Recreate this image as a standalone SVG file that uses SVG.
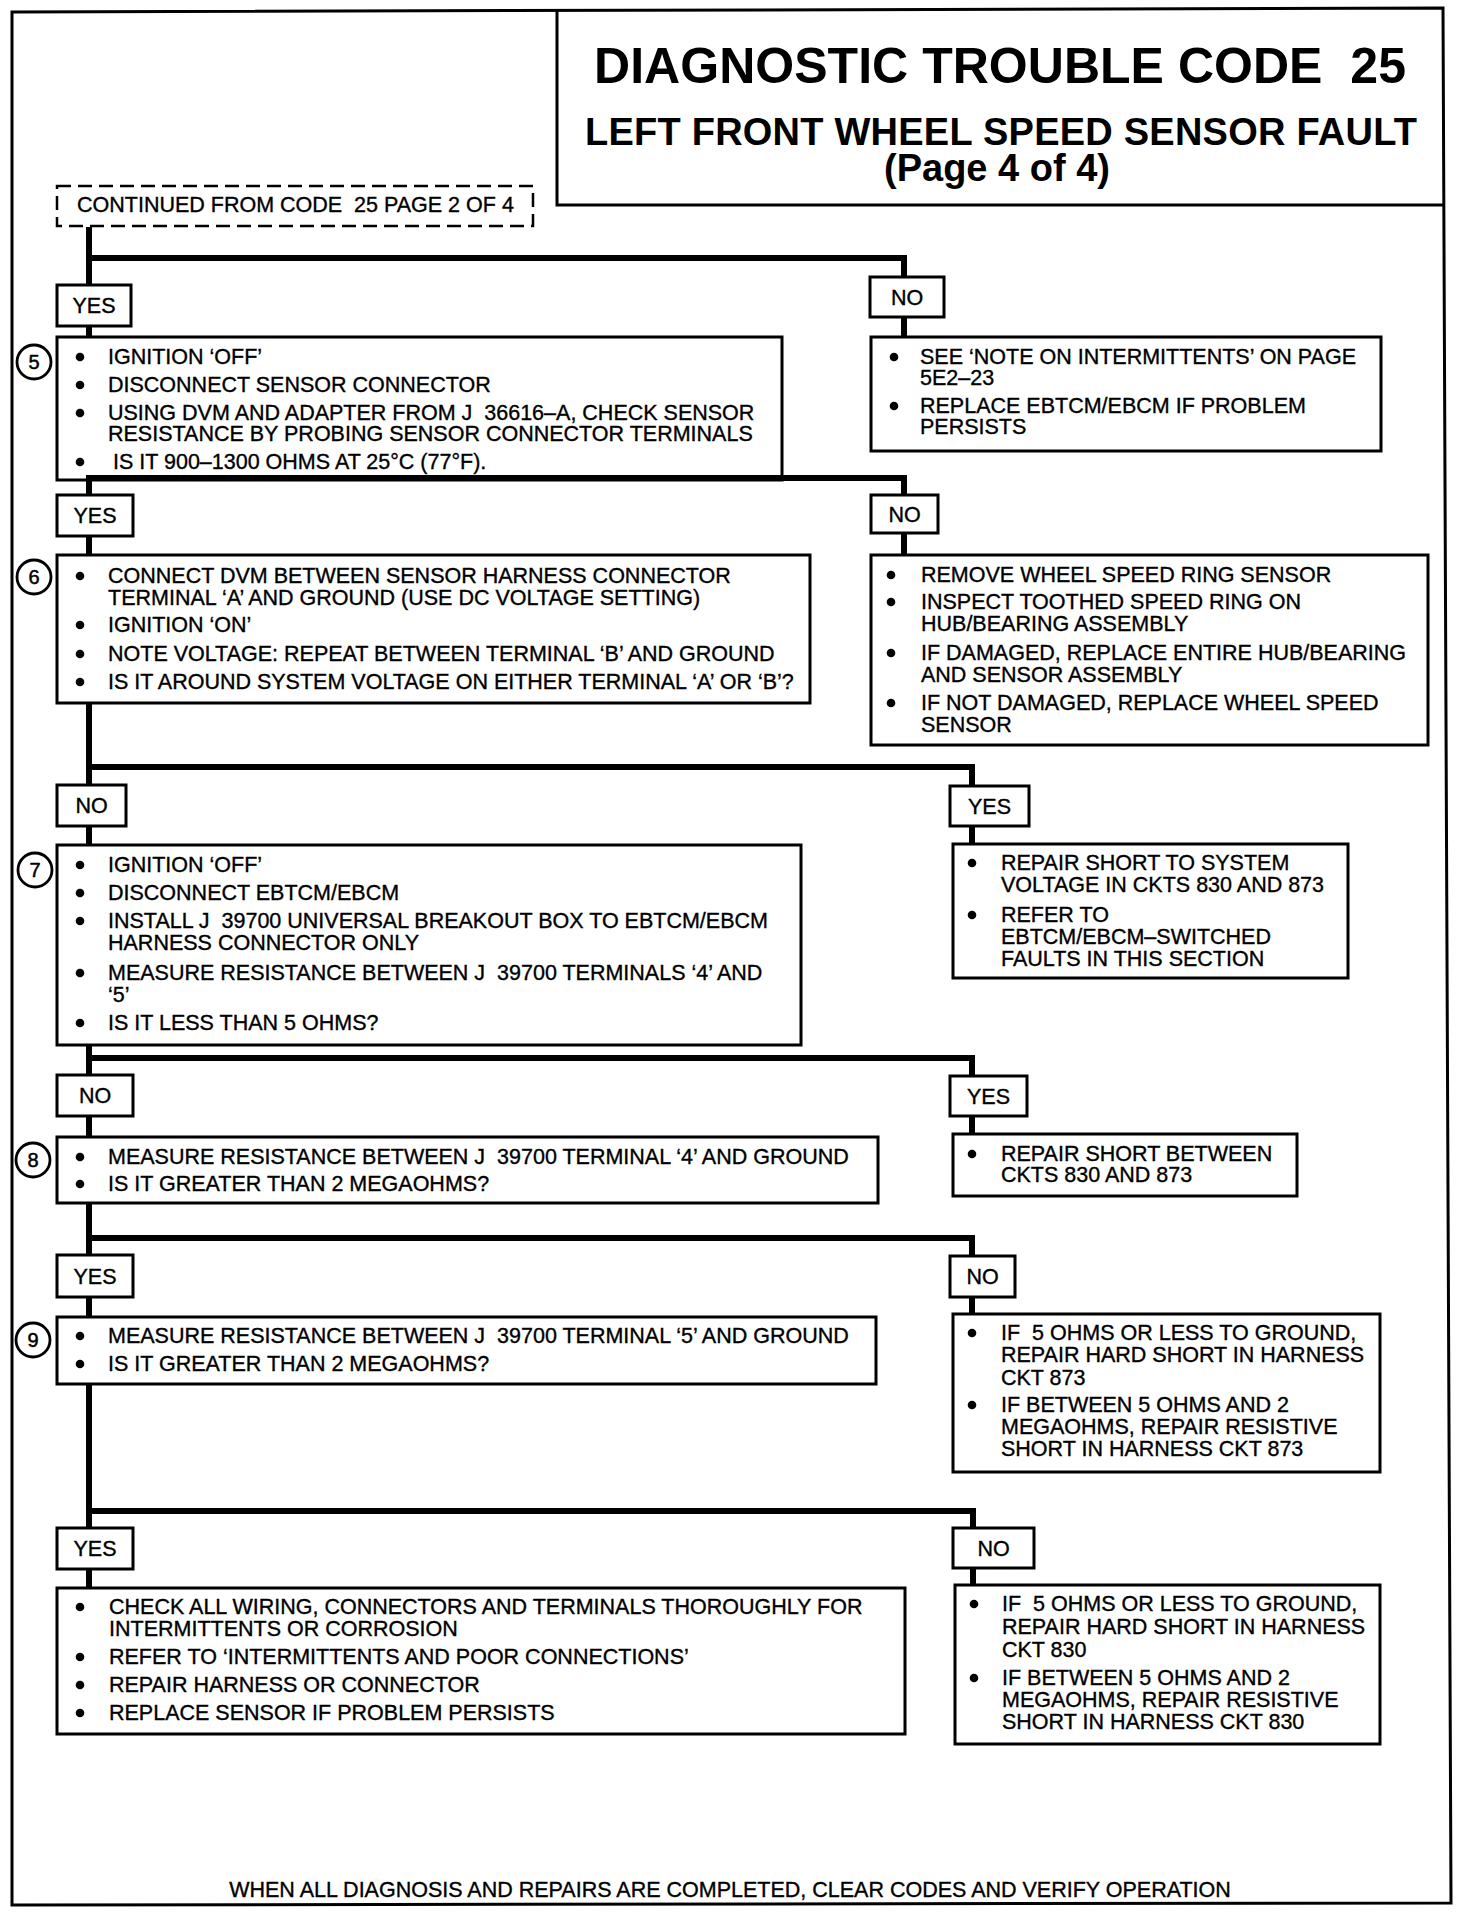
<svg xmlns="http://www.w3.org/2000/svg" width="1472" height="1914" viewBox="0 0 1472 1914">
<style>
  text { font-family: "Liberation Sans", Arial, Helvetica, sans-serif; fill: #000; white-space: pre; }
  .t { font-size: 21.5px; stroke: #000; stroke-width: 0.35; }
  .lbl { font-size: 21.5px; text-anchor: middle; stroke: #000; stroke-width: 0.35; }
  .num { font-size: 20px; text-anchor: middle; stroke: #000; stroke-width: 0.5; }
  .title { font-weight: bold; }
  .box { fill: #fff; stroke: #000; stroke-width: 3; }
  .dash { fill: #fff; stroke: #000; stroke-width: 2.5; stroke-dasharray: 14 7; }
  .circ { fill: #fff; stroke: #000; stroke-width: 2.8; }
  .conn { fill: none; stroke: #000; stroke-width: 6; stroke-linejoin: miter; }
  .frame { fill: none; stroke: #000; stroke-width: 3; }
  .b { fill: #000; }
</style>
<rect width="1472" height="1914" fill="#fff"/>

<g id="frame">
  <path class="frame" d="M12,12 L1443,8 L1451,1903 L12,1905 Z"/>
</g>

<g id="title">
  <path class="frame" d="M557,10 V205 H1444"/>
  <text class="title" x="594" y="83" font-size="50" textLength="812">DIAGNOSTIC TROUBLE CODE  25</text>
  <text class="title" x="585" y="145" font-size="38" textLength="832">LEFT FRONT WHEEL SPEED SENSOR FAULT</text>
  <text class="title" x="884" y="181" font-size="38">(Page 4 of 4)</text>
</g>

<g id="start">
  <rect class="dash" x="57" y="186" width="476" height="40"/>
  <text class="t" x="77" y="212">CONTINUED FROM CODE  25 PAGE 2 OF 4</text>
</g>

<g id="yes1"><rect class="box" x="57" y="285" width="74" height="41"/><text class="lbl" x="94" y="313">YES</text></g>
<g id="no1"><rect class="box" x="870" y="277" width="74" height="40"/><text class="lbl" x="907" y="305">NO</text></g>

<g id="step5">
  <rect class="box" x="57" y="337" width="725" height="143"/>
  <circle class="circ" cx="34" cy="362" r="17"/><text class="num" x="34" y="369">5</text>
  <circle class="b" cx="80" cy="357" r="4.3"/><text class="t" x="108" y="364">IGNITION ‘OFF’</text>
  <circle class="b" cx="80" cy="385" r="4.3"/><text class="t" x="108" y="392">DISCONNECT SENSOR CONNECTOR</text>
  <circle class="b" cx="80" cy="413" r="4.3"/><text class="t" x="108" y="420">USING DVM AND ADAPTER FROM J  36616–A, CHECK SENSOR</text>
  <text class="t" x="108" y="441">RESISTANCE BY PROBING SENSOR CONNECTOR TERMINALS</text>
  <circle class="b" cx="80" cy="462" r="4.3"/><text class="t" x="113" y="469">IS IT 900–1300 OHMS AT 25°C (77°F).</text>
</g>

<g id="no1-action">
  <rect class="box" x="871" y="337" width="510" height="114"/>
  <circle class="b" cx="894" cy="357" r="4.3"/><text class="t" x="920" y="364">SEE ‘NOTE ON INTERMITTENTS’ ON PAGE</text>
  <text class="t" x="920" y="385">5E2–23</text>
  <circle class="b" cx="894" cy="406" r="4.3"/><text class="t" x="920" y="413">REPLACE EBTCM/EBCM IF PROBLEM</text>
  <text class="t" x="920" y="434">PERSISTS</text>
</g>

<g id="yes2"><rect class="box" x="57" y="495" width="76" height="41"/><text class="lbl" x="95" y="523">YES</text></g>
<g id="no2"><rect class="box" x="871" y="495" width="67" height="38"/><text class="lbl" x="904.5" y="522">NO</text></g>

<g id="step6">
  <rect class="box" x="57" y="555" width="753" height="148"/>
  <circle class="circ" cx="34" cy="577" r="17"/><text class="num" x="34" y="584">6</text>
  <circle class="b" cx="80" cy="576" r="4.3"/><text class="t" x="108" y="583">CONNECT DVM BETWEEN SENSOR HARNESS CONNECTOR</text>
  <text class="t" x="108" y="605">TERMINAL ‘A’ AND GROUND (USE DC VOLTAGE SETTING)</text>
  <circle class="b" cx="80" cy="625" r="4.3"/><text class="t" x="108" y="632">IGNITION ‘ON’</text>
  <circle class="b" cx="80" cy="654" r="4.3"/><text class="t" x="108" y="661">NOTE VOLTAGE: REPEAT BETWEEN TERMINAL ‘B’ AND GROUND</text>
  <circle class="b" cx="80" cy="682" r="4.3"/><text class="t" x="108" y="689">IS IT AROUND SYSTEM VOLTAGE ON EITHER TERMINAL ‘A’ OR ‘B’?</text>
</g>

<g id="no2-action">
  <rect class="box" x="871" y="555" width="557" height="190"/>
  <circle class="b" cx="891" cy="575" r="4.3"/><text class="t" x="921" y="582">REMOVE WHEEL SPEED RING SENSOR</text>
  <circle class="b" cx="891" cy="602" r="4.3"/><text class="t" x="921" y="609">INSPECT TOOTHED SPEED RING ON</text>
  <text class="t" x="921" y="631">HUB/BEARING ASSEMBLY</text>
  <circle class="b" cx="891" cy="653" r="4.3"/><text class="t" x="921" y="660">IF DAMAGED, REPLACE ENTIRE HUB/BEARING</text>
  <text class="t" x="921" y="682">AND SENSOR ASSEMBLY</text>
  <circle class="b" cx="891" cy="703" r="4.3"/><text class="t" x="921" y="710">IF NOT DAMAGED, REPLACE WHEEL SPEED</text>
  <text class="t" x="921" y="732">SENSOR</text>
</g>

<g id="no3"><rect class="box" x="57" y="785" width="69" height="41"/><text class="lbl" x="91.5" y="813">NO</text></g>
<g id="yes3"><rect class="box" x="950" y="786" width="79" height="40"/><text class="lbl" x="989.5" y="814">YES</text></g>

<g id="step7">
  <rect class="box" x="57" y="845" width="744" height="200"/>
  <circle class="circ" cx="35" cy="870" r="17"/><text class="num" x="35" y="877">7</text>
  <circle class="b" cx="80" cy="865" r="4.3"/><text class="t" x="108" y="872">IGNITION ‘OFF’</text>
  <circle class="b" cx="80" cy="893" r="4.3"/><text class="t" x="108" y="900">DISCONNECT EBTCM/EBCM</text>
  <circle class="b" cx="80" cy="921" r="4.3"/><text class="t" x="108" y="928">INSTALL J  39700 UNIVERSAL BREAKOUT BOX TO EBTCM/EBCM</text>
  <text class="t" x="108" y="950">HARNESS CONNECTOR ONLY</text>
  <circle class="b" cx="80" cy="973" r="4.3"/><text class="t" x="108" y="980">MEASURE RESISTANCE BETWEEN J  39700 TERMINALS ‘4’ AND</text>
  <text class="t" x="108" y="1002">‘5’</text>
  <circle class="b" cx="80" cy="1023" r="4.3"/><text class="t" x="108" y="1030">IS IT LESS THAN 5 OHMS?</text>
</g>

<g id="yes3-action">
  <rect class="box" x="953" y="844" width="395" height="134"/>
  <circle class="b" cx="972" cy="863" r="4.3"/><text class="t" x="1001" y="870">REPAIR SHORT TO SYSTEM</text>
  <text class="t" x="1001" y="892">VOLTAGE IN CKTS 830 AND 873</text>
  <circle class="b" cx="972" cy="915" r="4.3"/><text class="t" x="1001" y="922">REFER TO</text>
  <text class="t" x="1001" y="944">EBTCM/EBCM–SWITCHED</text>
  <text class="t" x="1001" y="966">FAULTS IN THIS SECTION</text>
</g>

<g id="no4"><rect class="box" x="57" y="1075" width="76" height="41"/><text class="lbl" x="95" y="1103">NO</text></g>
<g id="yes4"><rect class="box" x="950" y="1076" width="77" height="40"/><text class="lbl" x="988.5" y="1104">YES</text></g>

<g id="step8">
  <rect class="box" x="57" y="1137" width="821" height="66"/>
  <circle class="circ" cx="33" cy="1160" r="17"/><text class="num" x="33" y="1167">8</text>
  <circle class="b" cx="80" cy="1157" r="4.3"/><text class="t" x="108" y="1164">MEASURE RESISTANCE BETWEEN J  39700 TERMINAL ‘4’ AND GROUND</text>
  <circle class="b" cx="80" cy="1184" r="4.3"/><text class="t" x="108" y="1191">IS IT GREATER THAN 2 MEGAOHMS?</text>
</g>

<g id="yes4-action">
  <rect class="box" x="953" y="1134" width="344" height="62"/>
  <circle class="b" cx="972" cy="1154" r="4.3"/><text class="t" x="1001" y="1161">REPAIR SHORT BETWEEN</text>
  <text class="t" x="1001" y="1182">CKTS 830 AND 873</text>
</g>

<g id="yes5"><rect class="box" x="57" y="1255" width="76" height="42"/><text class="lbl" x="95" y="1284">YES</text></g>
<g id="no5"><rect class="box" x="950" y="1256" width="65" height="41"/><text class="lbl" x="982.5" y="1284">NO</text></g>

<g id="step9">
  <rect class="box" x="57" y="1317" width="819" height="67"/>
  <circle class="circ" cx="33" cy="1340" r="17"/><text class="num" x="33" y="1347">9</text>
  <circle class="b" cx="80" cy="1336" r="4.3"/><text class="t" x="108" y="1343">MEASURE RESISTANCE BETWEEN J  39700 TERMINAL ‘5’ AND GROUND</text>
  <circle class="b" cx="80" cy="1364" r="4.3"/><text class="t" x="108" y="1371">IS IT GREATER THAN 2 MEGAOHMS?</text>
</g>

<g id="no5-action">
  <rect class="box" x="953" y="1314" width="427" height="158"/>
  <circle class="b" cx="972" cy="1333" r="4.3"/><text class="t" x="1001" y="1340">IF  5 OHMS OR LESS TO GROUND,</text>
  <text class="t" x="1001" y="1362">REPAIR HARD SHORT IN HARNESS</text>
  <text class="t" x="1001" y="1385">CKT 873</text>
  <circle class="b" cx="972" cy="1405" r="4.3"/><text class="t" x="1001" y="1412">IF BETWEEN 5 OHMS AND 2</text>
  <text class="t" x="1001" y="1434">MEGAOHMS, REPAIR RESISTIVE</text>
  <text class="t" x="1001" y="1456">SHORT IN HARNESS CKT 873</text>
</g>

<g id="yes6"><rect class="box" x="57" y="1528" width="76" height="41"/><text class="lbl" x="95" y="1556">YES</text></g>
<g id="no6"><rect class="box" x="953" y="1528" width="81" height="40"/><text class="lbl" x="993.5" y="1556">NO</text></g>

<g id="yes6-action">
  <rect class="box" x="57" y="1588" width="848" height="146"/>
  <circle class="b" cx="80" cy="1607" r="4.3"/><text class="t" x="109" y="1614">CHECK ALL WIRING, CONNECTORS AND TERMINALS THOROUGHLY FOR</text>
  <text class="t" x="109" y="1636">INTERMITTENTS OR CORROSION</text>
  <circle class="b" cx="80" cy="1657" r="4.3"/><text class="t" x="109" y="1664">REFER TO ‘INTERMITTENTS AND POOR CONNECTIONS’</text>
  <circle class="b" cx="80" cy="1685" r="4.3"/><text class="t" x="109" y="1692">REPAIR HARNESS OR CONNECTOR</text>
  <circle class="b" cx="80" cy="1713" r="4.3"/><text class="t" x="109" y="1720">REPLACE SENSOR IF PROBLEM PERSISTS</text>
</g>

<g id="no6-action">
  <rect class="box" x="955" y="1585" width="425" height="159"/>
  <circle class="b" cx="974" cy="1604" r="4.3"/><text class="t" x="1002" y="1611">IF  5 OHMS OR LESS TO GROUND,</text>
  <text class="t" x="1002" y="1634">REPAIR HARD SHORT IN HARNESS</text>
  <text class="t" x="1002" y="1657">CKT 830</text>
  <circle class="b" cx="974" cy="1678" r="4.3"/><text class="t" x="1002" y="1685">IF BETWEEN 5 OHMS AND 2</text>
  <text class="t" x="1002" y="1707">MEGAOHMS, REPAIR RESISTIVE</text>
  <text class="t" x="1002" y="1729">SHORT IN HARNESS CKT 830</text>
</g>

<g id="footer">
  <text class="t" x="730" y="1897" text-anchor="middle">WHEN ALL DIAGNOSIS AND REPAIRS ARE COMPLETED, CLEAR CODES AND VERIFY OPERATION</text>
</g>

<g id="connectors">
  <path class="conn" d="M89,227 V285"/>
  <path class="conn" d="M89,258 H904 V277"/>
  <path class="conn" d="M89,326 V337"/>
  <path class="conn" d="M904,317 V337"/>
  <path class="conn" d="M89,478 V495"/>
  <path class="conn" d="M86,478 H904 V495"/>
  <path class="conn" d="M89,536 V555"/>
  <path class="conn" d="M904,533 V555"/>
  <path class="conn" d="M89,703 V785"/>
  <path class="conn" d="M89,767 H972 V786"/>
  <path class="conn" d="M89,826 V845"/>
  <path class="conn" d="M972,826 V844"/>
  <path class="conn" d="M89,1045 V1075"/>
  <path class="conn" d="M89,1058 H972 V1076"/>
  <path class="conn" d="M89,1116 V1137"/>
  <path class="conn" d="M972,1116 V1134"/>
  <path class="conn" d="M89,1203 V1255"/>
  <path class="conn" d="M89,1238 H972 V1256"/>
  <path class="conn" d="M89,1297 V1317"/>
  <path class="conn" d="M972,1297 V1314"/>
  <path class="conn" d="M89,1384 V1528"/>
  <path class="conn" d="M89,1511 H973 V1528"/>
  <path class="conn" d="M89,1569 V1588"/>
  <path class="conn" d="M973,1568 V1585"/>
</g>
</svg>
